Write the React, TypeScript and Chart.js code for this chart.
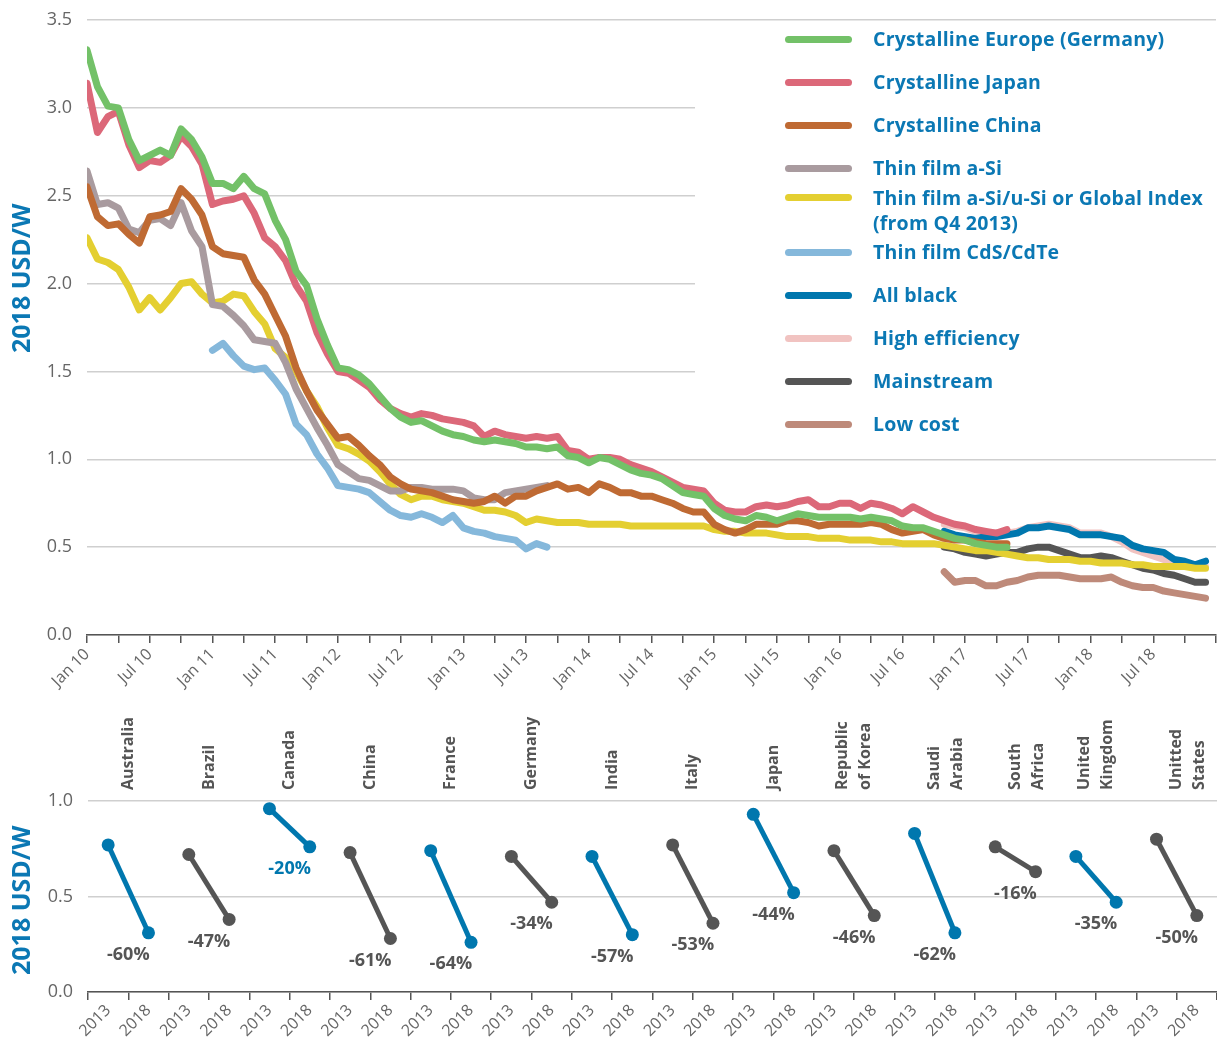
import React, { useEffect, useRef } from "react";
import { Chart, registerables } from "chart.js";

Chart.register(...registerables);

// ---------- Top chart data (monthly, month 0 = Jan 2010) ----------
const monthTickLabels = [
  "Jan 10", "Jul 10", "Jan 11", "Jul 11", "Jan 12", "Jul 12", "Jan 13", "Jul 13", "Jan 14",
  "Jul 14", "Jan 15", "Jul 15", "Jan 16", "Jul 16", "Jan 17", "Jul 17", "Jan 18", "Jul 18",
];
const monthsOnAxis = 108;

const seriesNames = [
  "Crystalline Europe (Germany)",
  "Crystalline Japan",
  "Crystalline China",
  "Thin film a-Si",
  "Thin film a-Si/u-Si or Global Index\n(from Q4 2013)",
  "Thin film CdS/CdTe",
  "All black",
  "High efficiency",
  "Mainstream",
  "Low cost",
];
const seriesColors = [
  "#73C168", "#DC6879", "#BF6A33", "#A99B9F", "#E4CF31",
  "#85B8DB", "#0077AE", "#F1C3C1", "#555555", "#BE8A7A",
];
const seriesStartMonth = [0, 0, 0, 0, 0, 12, 82, 82, 82, 82];

const crystallineEurope = [
  3.33, 3.12, 3.01, 3.00, 2.82, 2.70, 2.73, 2.76, 2.73, 2.88, 2.82, 2.72,
  2.57, 2.57, 2.54, 2.61, 2.54, 2.51, 2.36, 2.25, 2.07, 1.99, 1.80, 1.65,
  1.52, 1.51, 1.48, 1.43, 1.36, 1.29, 1.24, 1.21, 1.22, 1.19, 1.16, 1.14,
  1.13, 1.11, 1.10, 1.11, 1.10, 1.09, 1.07, 1.07, 1.06, 1.07, 1.02, 1.01,
  0.98, 1.01, 1.00, 0.97, 0.94, 0.92, 0.91, 0.89, 0.85, 0.81, 0.80, 0.79,
  0.72, 0.68, 0.66, 0.65, 0.68, 0.67, 0.65, 0.67, 0.69, 0.68, 0.67, 0.67,
  0.67, 0.67, 0.66, 0.67, 0.66, 0.65, 0.62, 0.61, 0.61, 0.59, 0.57, 0.55,
  0.54, 0.52, 0.51, 0.50, 0.50,
];
const crystallineJapan = [
  3.14, 2.86, 2.95, 2.98, 2.79, 2.66, 2.70, 2.69, 2.73, 2.84, 2.78, 2.68,
  2.45, 2.47, 2.48, 2.50, 2.40, 2.26, 2.21, 2.13, 1.99, 1.90, 1.72, 1.60,
  1.50, 1.49, 1.45, 1.41, 1.34, 1.29, 1.26, 1.24, 1.26, 1.25, 1.23, 1.22,
  1.21, 1.19, 1.13, 1.16, 1.14, 1.13, 1.12, 1.13, 1.12, 1.13, 1.05, 1.04,
  1.00, 1.01, 1.01, 1.00, 0.97, 0.95, 0.93, 0.90, 0.87, 0.84, 0.83, 0.82,
  0.75, 0.71, 0.70, 0.70, 0.73, 0.74, 0.73, 0.74, 0.76, 0.77, 0.73, 0.73,
  0.75, 0.75, 0.72, 0.75, 0.74, 0.72, 0.69, 0.73, 0.70, 0.67, 0.65, 0.63,
  0.62, 0.60, 0.59, 0.58, 0.60,
];
const crystallineChina = [
  2.55, 2.38, 2.33, 2.34, 2.28, 2.23, 2.38, 2.39, 2.41, 2.54, 2.48, 2.39,
  2.21, 2.17, 2.16, 2.15, 2.02, 1.94, 1.82, 1.70, 1.52, 1.39, 1.28, 1.20,
  1.12, 1.13, 1.08, 1.02, 0.97, 0.90, 0.86, 0.83, 0.82, 0.81, 0.79, 0.77,
  0.76, 0.75, 0.76, 0.79, 0.75, 0.79, 0.79, 0.82, 0.84, 0.86, 0.83, 0.84,
  0.81, 0.86, 0.84, 0.81, 0.81, 0.79, 0.79, 0.77, 0.75, 0.72, 0.70, 0.70,
  0.63, 0.60, 0.58, 0.60, 0.63, 0.63, 0.63, 0.65, 0.65, 0.64, 0.62, 0.63,
  0.63, 0.63, 0.63, 0.64, 0.63, 0.60, 0.58, 0.59, 0.60, 0.57, 0.55, 0.54,
  0.54, 0.53, 0.52, 0.52, 0.52,
];
const thinFilmASi = [
  2.64, 2.45, 2.46, 2.43, 2.31, 2.29, 2.36, 2.37, 2.33, 2.46, 2.30, 2.21,
  1.88, 1.87, 1.82, 1.76, 1.68, 1.67, 1.66, 1.55, 1.40, 1.29, 1.18, 1.08,
  0.97, 0.93, 0.89, 0.88, 0.85, 0.82, 0.82, 0.84, 0.84, 0.83, 0.83, 0.83,
  0.82, 0.78, 0.77, 0.77, 0.81, 0.82, 0.83, 0.84, 0.85,
];
const thinFilmMicroSiGlobal = [
  2.26, 2.14, 2.12, 2.08, 1.98, 1.85, 1.92, 1.85, 1.92, 2.00, 2.01, 1.94,
  1.89, 1.90, 1.94, 1.93, 1.84, 1.77, 1.63, 1.58, 1.50, 1.39, 1.30, 1.18,
  1.08, 1.06, 1.03, 0.99, 0.93, 0.86, 0.80, 0.77, 0.79, 0.79, 0.77, 0.76,
  0.75, 0.73, 0.71, 0.71, 0.70, 0.68, 0.64, 0.66, 0.65, 0.64, 0.64, 0.64,
  0.63, 0.63, 0.63, 0.63, 0.62, 0.62, 0.62, 0.62, 0.62, 0.62, 0.62, 0.62,
  0.60, 0.59, 0.59, 0.58, 0.58, 0.58, 0.57, 0.56, 0.56, 0.56, 0.55, 0.55,
  0.55, 0.54, 0.54, 0.54, 0.53, 0.53, 0.52, 0.52, 0.52, 0.52, 0.51, 0.50,
  0.49, 0.48, 0.48, 0.47, 0.46, 0.45, 0.44, 0.44, 0.43, 0.43, 0.43, 0.42,
  0.42, 0.41, 0.41, 0.41, 0.40, 0.40, 0.39, 0.39, 0.39, 0.39, 0.38, 0.38,
];
const thinFilmCdTe = [
  1.62, 1.66, 1.59, 1.53, 1.51, 1.52, 1.45, 1.37, 1.20, 1.14, 1.03, 0.95,
  0.85, 0.84, 0.83, 0.81, 0.76, 0.71, 0.68, 0.67, 0.69, 0.67, 0.64, 0.68,
  0.61, 0.59, 0.58, 0.56, 0.55, 0.54, 0.49, 0.52, 0.50,
];
const allBlack = [
  0.59, 0.57, 0.56, 0.55, 0.56, 0.56, 0.57, 0.58, 0.61, 0.61, 0.62, 0.61, 0.60,
  0.57, 0.57, 0.57, 0.56, 0.55, 0.51, 0.49, 0.48, 0.47, 0.43, 0.42, 0.40, 0.42,
];
const highEfficiency = [
  0.63, 0.62, 0.61, 0.59, 0.58, 0.58, 0.58, 0.59, 0.61, 0.62, 0.63, 0.62, 0.61,
  0.58, 0.58, 0.58, 0.56, 0.53, 0.49, 0.47, 0.45, 0.43, 0.42, 0.41, 0.39, 0.39,
];
const mainstream = [
  0.50, 0.49, 0.47, 0.46, 0.45, 0.46, 0.47, 0.47, 0.49, 0.50, 0.50, 0.48, 0.46,
  0.44, 0.44, 0.45, 0.44, 0.42, 0.40, 0.38, 0.37, 0.35, 0.34, 0.32, 0.30, 0.30,
];
const lowCost = [
  0.36, 0.30, 0.31, 0.31, 0.28, 0.28, 0.30, 0.31, 0.33, 0.34, 0.34, 0.34, 0.33,
  0.32, 0.32, 0.32, 0.33, 0.30, 0.28, 0.27, 0.27, 0.25, 0.24, 0.23, 0.22, 0.21,
];
const seriesValues = [
  crystallineEurope, crystallineJapan, crystallineChina, thinFilmASi, thinFilmMicroSiGlobal,
  thinFilmCdTe, allBlack, highEfficiency, mainstream, lowCost,
];

// ---------- Bottom chart data ----------
const countryNames = [
  ["Australia"], ["Brazil"], ["Canada"], ["China"], ["France"], ["Germany"], ["India"],
  ["Italy"], ["Japan"], ["Republic", "of Korea"], ["Saudi", "Arabia"], ["South", "Africa"],
  ["United", "Kingdom"], ["Unitted", "States"],
];
const yearLabels = ["2013", "2018"];
const price2013 = [0.77, 0.72, 0.96, 0.73, 0.74, 0.71, 0.71, 0.77, 0.93, 0.74, 0.83, 0.76, 0.71, 0.80];
const price2018 = [0.31, 0.38, 0.76, 0.28, 0.26, 0.47, 0.30, 0.36, 0.52, 0.40, 0.31, 0.63, 0.47, 0.40];
const changeLabels = ["-60%", "-47%", "-20%", "-61%", "-64%", "-34%", "-57%", "-53%", "-44%", "-46%", "-62%", "-16%", "-35%", "-50%"];
const countryHighlighted = [true, false, true, false, true, false, true, false, true, false, true, false, true, false];
const changeLabelHighlighted = [false, false, true, false, false, false, false, false, false, false, false, false, false, false];

const BLUE = "#0077AE";
const TEXT_BLUE = "#0B78B4";
const DARK = "#555555";
const TICK = "#666666";
const GRID = "#CFCFCF";
const FONT = "'Open Sans', 'Noto Sans', sans-serif";

function yTitlePlugin(id: string, fraction: number) {
  return {
    id,
    afterDraw(chart: any) {
      const { ctx, chartArea } = chart;
      const cy = chartArea.top + (chartArea.bottom - chartArea.top) * fraction;
      ctx.save();
      ctx.translate(23, cy);
      ctx.rotate(-Math.PI / 2);
      ctx.fillStyle = TEXT_BLUE;
      ctx.font = `bold 25px ${FONT}`;
      ctx.textAlign = "center";
      ctx.textBaseline = "middle";
      ctx.fillText("2018 USD/W", 0, 0);
      ctx.restore();
    },
  };
}

const zeroSidePadding = (s: any, h: number) => {
  s.height = h;
  s.paddingLeft = 0;
  s.paddingRight = 0;
};

export default function App() {
  const topRef = useRef<HTMLCanvasElement>(null);
  const bottomRef = useRef<HTMLCanvasElement>(null);

  useEffect(() => {
    document.body.style.margin = "0";
    Chart.defaults.font.family = FONT;

    const topDatasets = seriesValues.map((vals, i) => ({
      label: seriesNames[i].replace("\n", " "),
      data: vals.map((v, k) => ({ x: seriesStartMonth[i] + k, y: v })),
      borderColor: seriesColors[i],
      backgroundColor: seriesColors[i],
      borderWidth: 7,
      pointRadius: 0,
      pointHoverRadius: 0,
      tension: 0,
      borderCapStyle: "round" as const,
      borderJoinStyle: "round" as const,
      fill: false,
    }));

    const top = new Chart(topRef.current!, {
      type: "line",
      data: { datasets: topDatasets },
      options: {
        animation: false,
        responsive: false,
        events: [],
        layout: { autoPadding: false, padding: { top: 20, right: 1, left: 0, bottom: 0 } },
        plugins: { legend: { display: false }, tooltip: { enabled: false } },
        scales: {
          x: {
            type: "linear",
            min: 0,
            max: monthsOnAxis,
            afterFit: (s: any) => zeroSidePadding(s, 65),
            ticks: {
              stepSize: 3,
              autoSkip: false,
              maxRotation: 45,
              minRotation: 45,
              color: TICK,
              font: { size: 16 },
              padding: 2,
              callback: (v: any) => {
                const n = Number(v);
                if (n % 6 !== 0) return "";
                const idx = n / 6;
                return idx < monthTickLabels.length ? monthTickLabels[idx] : "";
              },
            },
            grid: { drawOnChartArea: false, drawTicks: true, tickLength: 8, color: DARK, lineWidth: 1.5 },
            border: { display: true, color: DARK, width: 1.5 },
          },
          y: {
            min: 0,
            max: 3.5,
            afterFit: (s: any) => { s.width = 87; s.paddingTop = 0; s.paddingBottom = 0; },
            ticks: {
              stepSize: 0.5,
              color: TICK,
              font: { size: 18 },
              padding: 15,
              callback: (v: any) => Number(v).toFixed(1),
            },
            grid: { color: GRID, lineWidth: 1.5, drawTicks: false },
            border: { display: false },
          },
        },
      },
      plugins: [yTitlePlugin("topTitle", 0.42)],
    });

    const bottomLabels: string[] = [];
    countryNames.forEach(() => yearLabels.forEach((y) => bottomLabels.push(y)));

    const bottomDatasets = countryNames.map((name, i) => {
      const color = countryHighlighted[i] ? BLUE : DARK;
      return {
        label: name.join(" "),
        data: bottomLabels.map((_, j) => (j === 2 * i ? price2013[i] : j === 2 * i + 1 ? price2018[i] : null)),
        borderColor: color,
        backgroundColor: color,
        pointBackgroundColor: color,
        pointBorderWidth: 0,
        borderWidth: 5,
        pointRadius: 6.5,
        pointHoverRadius: 6.5,
        spanGaps: false,
        tension: 0,
        fill: false,
      };
    });

    // two-line names whose first line sits on the pair centre (others are centred as a block)
    const firstLineAnchored = new Set(["Saudi", "South", "Unitted"]);

    const bottomLabelsPlugin = {
      id: "bottomLabels",
      afterDatasetsDraw(chart: any) {
        const { ctx, chartArea } = chart;
        countryNames.forEach((lines, i) => {
          const meta = chart.getDatasetMeta(i);
          const p0 = meta.data[2 * i];
          const p1 = meta.data[2 * i + 1];
          if (!p0 || !p1) return;
          const cx = (p0.x + p1.x) / 2;
          ctx.save();
          ctx.font = `bold 18px ${FONT}`;
          ctx.fillStyle = changeLabelHighlighted[i] ? BLUE : DARK;
          ctx.textAlign = "center";
          ctx.textBaseline = "middle";
          ctx.fillText(changeLabels[i], cx, p1.y + 22);
          ctx.restore();

          ctx.save();
          ctx.translate(cx, chartArea.top - 11);
          ctx.rotate(-Math.PI / 2);
          ctx.font = `bold 16px ${FONT}`;
          ctx.fillStyle = DARK;
          ctx.textAlign = "left";
          ctx.textBaseline = "middle";
          const lh = 23;
          const base = firstLineAnchored.has(lines[0]) ? 0 : (lines.length - 1) / 2;
          lines.forEach((line, k) => {
            ctx.fillText(line, 0, (k - base) * lh);
          });
          ctx.restore();
        });
      },
    };

    const bottom = new Chart(bottomRef.current!, {
      type: "line",
      data: { labels: bottomLabels, datasets: bottomDatasets },
      options: {
        animation: false,
        responsive: false,
        events: [],
        layout: { autoPadding: false, padding: { top: 101, right: -2, left: 0, bottom: 0 } },
        plugins: { legend: { display: false }, tooltip: { enabled: false } },
        scales: {
          x: {
            type: "category",
            offset: true,
            afterFit: (s: any) => zeroSidePadding(s, 55),
            ticks: {
              autoSkip: false,
              maxRotation: 45,
              minRotation: 45,
              color: TICK,
              font: { size: 16 },
              padding: 1,
            },
            grid: { offset: true, drawOnChartArea: false, drawTicks: true, tickLength: 8, color: DARK, lineWidth: 1.5 },
            border: { display: true, color: DARK, width: 1.5 },
          },
          y: {
            min: 0,
            max: 1,
            afterFit: (s: any) => { s.width = 88; s.paddingTop = 0; s.paddingBottom = 0; },
            ticks: {
              stepSize: 0.5,
              color: TICK,
              font: { size: 18 },
              padding: 15,
              callback: (v: any) => Number(v).toFixed(1),
            },
            grid: { color: GRID, lineWidth: 1.5, drawTicks: false },
            border: { display: false },
          },
        },
      },
      plugins: [yTitlePlugin("bottomTitle", 0.52), bottomLabelsPlugin],
    });

    return () => {
      top.destroy();
      bottom.destroy();
    };
  }, []);

  const rowMargins = [17, 17, 17, 4, 4, 17, 17, 17, 17, 0];

  return (
    <div style={{ position: "relative", width: 1217, height: 1047, background: "#fff", overflow: "hidden" }}>
      <canvas ref={topRef} width={1217} height={700} style={{ position: "absolute", left: 0, top: 0 }} />
      <canvas ref={bottomRef} width={1217} height={347} style={{ position: "absolute", left: 0, top: 700 }} />
      <div
        style={{
          position: "absolute",
          left: 695,
          top: 26,
          width: 522,
          height: 428,
          background: "#fff",
          paddingLeft: 90,
          boxSizing: "border-box",
          fontFamily: FONT,
          fontWeight: 700,
          fontSize: 19.5,
          letterSpacing: 0.2,
          color: TEXT_BLUE,
        }}
      >
        {seriesNames.map((name, i) => {
          const multi = name.includes("\n");
          const lh = multi ? 25 : 26;
          return (
            <div key={name} style={{ display: "flex", alignItems: "flex-start", marginBottom: rowMargins[i] }}>
              <div
                style={{
                  width: 67,
                  height: 7,
                  borderRadius: 4,
                  background: seriesColors[i],
                  marginTop: (lh - 7) / 2,
                  marginRight: 21,
                  flex: "none",
                }}
              />
              <div style={{ lineHeight: `${lh}px`, whiteSpace: "pre" }}>{name}</div>
            </div>
          );
        })}
      </div>
    </div>
  );
}
